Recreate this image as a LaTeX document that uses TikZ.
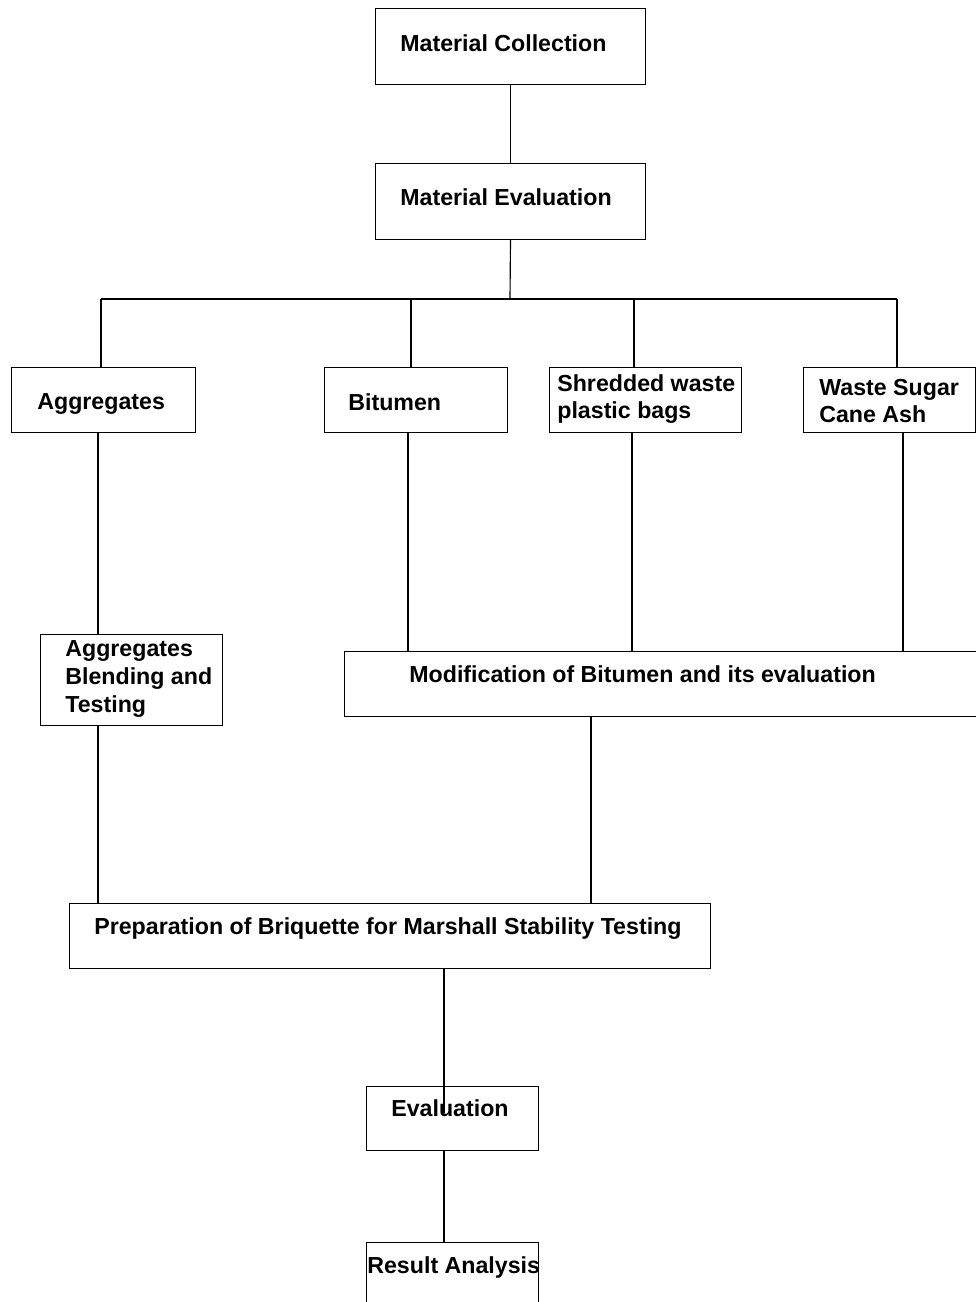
\documentclass[tikz,border=0pt]{standalone}
\usepackage{fontspec}
\setmainfont{Liberation Sans}
\usepackage{tikz}
\usetikzlibrary{positioning}
\tikzset{
    box/.style = {draw, line width=0.6pt, inner sep=0pt, anchor=north west},
    lbl/.style = {anchor=west, inner sep=0pt, align=left, font=\bfseries\fontsize{13.2}{15.8}\selectfont},
    link/.style = {line width=0.65pt}
}

\begin{document}
\begin{tikzpicture}[line cap=butt, line join=miter, x=0.02cm, y=-0.02cm]
\useasboundingbox (0,0) rectangle (976,1302);

\node[box, minimum width=5.40cm, minimum height=1.52cm] (collect) at (375,8) {};
\node[box, minimum width=5.40cm, minimum height=1.52cm] (evalmat) at (375,163) {};

\node[box, minimum width=3.68cm, minimum height=1.30cm] (agg) at (11,367) {};
\node[box, minimum width=3.66cm, minimum height=1.30cm] (bit) at (324,367) {};
\node[box, minimum width=3.84cm, minimum height=1.30cm] (shred) at (549,367) {};
\node[box, minimum width=3.44cm, minimum height=1.30cm] (sugar) at (803,367) {};

\node[box, minimum width=3.64cm, minimum height=1.82cm] (blend) at (40,634) {};
\node[box, minimum width=12.92cm, minimum height=1.30cm] (modif) at (344,651) {};

\node[box, minimum width=12.82cm, minimum height=1.30cm] (prep) at (69,903) {};
\node[box, minimum width=3.44cm, minimum height=1.28cm] (evaln) at (366,1086) {};
\node[box, minimum width=3.44cm, minimum height=1.56cm] (result) at (366,1242) {};

% texts
\node[lbl] (collectlbl) at (400,43) {Material Collection};
\node[lbl] (evalmatlbl) at (400,197) {Material Evaluation};
\node[lbl] (agglbl) at (37,404) {Aggregates};
\node[lbl] (bitlbl) at (348,402) {Bitumen};
\node[lbl] (shredlbl) at (557,399) {Shredded waste\\plastic bags};
\node[lbl] (sugarlbl) at (819,401) {Waste Sugar\\Cane Ash};
\node[lbl] (blendlbl) at (65,679) {Aggregates\\Blending and\\Testing};
\node[lbl] (modiflbl) at (409,674) {Modification of Bitumen and its evaluation};
\node[lbl] (preplbl) at (94,929) {Preparation of Briquette for Marshall Stability Testing};
\node[lbl] (evalnlbl) at (391,1108) {Evaluation};
\node[lbl] (resultlbl) at (367,1267) {Result Analysis};

% connector positions
\coordinate (bus) at (510,299);
\coordinate (busA) at (101,299);
\coordinate (busB) at (411,299);
\coordinate (busS) at (634,299);
\coordinate (busW) at (897,299);
\coordinate (xA) at (98,0);
\coordinate (xB) at (408,0);
\coordinate (xS) at (632,0);
\coordinate (xW) at (903,0);
\coordinate (xM) at (591,0);
\coordinate (evaltip) at (444,1113);

\draw[link] (collect.south) -- (evalmat.south |- evalmat.north);
\draw[link] (evalmat.south) -- (bus);
\draw[link] (busA) -- (busW);
\draw[link] (busA) -- (busA |- agg.north);
\draw[link] (busB) -- (busB |- bit.north);
\draw[link] (busS) -- (busS |- shred.north);
\draw[link] (busW) -- (busW |- sugar.north);

\draw[link] (agg.south -| xA) -- (blend.north -| xA);
\draw[link] (bit.south -| xB) -- (modif.north -| xB);
\draw[link] (shred.south -| xS) -- (modif.north -| xS);
\draw[link] (sugar.south -| xW) -- (modif.north -| xW);

\draw[link] (blend.south -| xA) -- (prep.north -| xA);
\draw[link] (modif.south -| xM) -- (prep.north -| xM);

\draw[link] (prep.south -| evaltip) -- (evaltip);
\draw[link] (evaln.south -| evaltip) -- (result.north -| evaltip);
\end{tikzpicture}
\end{document}
